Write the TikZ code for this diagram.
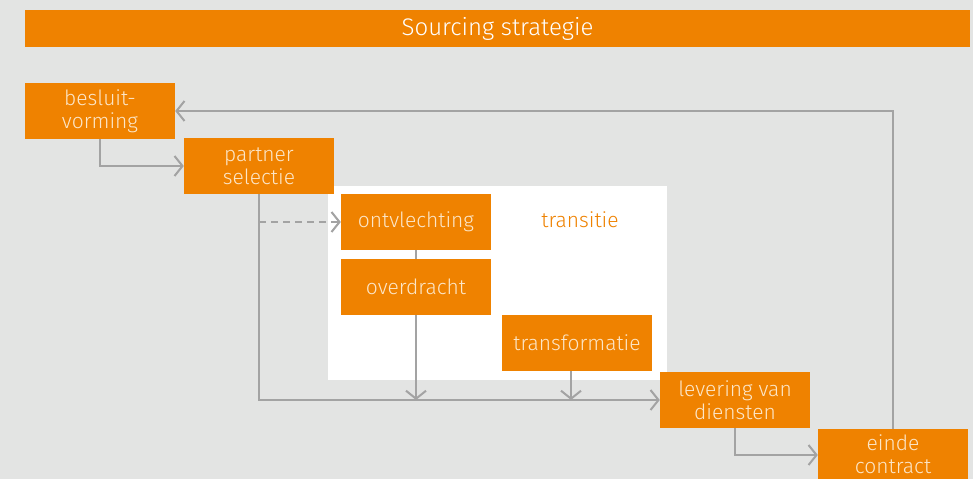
\documentclass[tikz,border=0pt]{standalone}
\usepackage{fontspec}
\setmainfont{Fira Sans Light}
\usetikzlibrary{arrows.meta}
\definecolor{bg}{HTML}{E3E4E3}
\definecolor{org}{HTML}{EF8200}
\definecolor{ln}{HTML}{A3A3A3}
\definecolor{txt}{HTML}{FCE6C8}
\tikzset{
  box/.style={fill=org, text=txt, minimum width=150pt, minimum height=56pt, inner sep=0pt, align=center, font=\fontsize{21}{23}\selectfont},
  conn/.style={draw=ln, line width=2pt, -{Straight Barb[length=8pt,width=20pt,line width=2pt]}},
  plain/.style={draw=ln, line width=2pt}
}
\begin{document}
\begin{tikzpicture}[x=1pt,y=-1pt]
\useasboundingbox (0,0) rectangle (973,479);
\clip (0,0) rectangle (973,479);
\fill[bg] (0,0) rectangle (973,479);
\node[fill=org, text=white, minimum width=945pt, minimum height=37pt, inner sep=0pt, font=\fontsize{24}{28}\selectfont] (title) at (497.5,28.5) {Sourcing strategie};
\fill[white] (328,186) rectangle (667,380);
\node[text=org, font=\fontsize{21}{23}\selectfont] (trans) at (580,220) {transitie};
\node[box] (besluit) at (100,111) {besluit-\\vorming};
\node[box] (partner) at (259,166) {partner\\selectie};
\node[box] (ontv) at (416,222) {ontvlechting};
\node[box] (over) at (416,287) {overdracht};
\node[box] (transf) at (577,343) {transformatie};
\node[box] (lev) at (735,400) {levering van\\diensten};
\node[box, minimum height=50pt] (einde) at (893,454) {einde\\contract};
\draw[conn] (besluit.south) |- (partner.west);
\draw[conn] (partner.south) |- (lev.west);
\draw[conn, dashed, dash pattern=on 7pt off 5pt] (partner.south |- ontv.west) -- (ontv.west);
\draw[plain] (ontv.south) -- (over.north);
\coordinate (ovend) at (over.south |- lev.west);
\coordinate (trend) at (571,400);
\draw[conn] (over.south) -- (ovend);
\draw[conn] (571,371) -- (trend);
\draw[conn] (lev.south) -- (lev.south |- 0,455) -- (einde.west |- 0,455);
\draw[conn] (einde.north) |- (besluit.east);
\end{tikzpicture}
\end{document}
